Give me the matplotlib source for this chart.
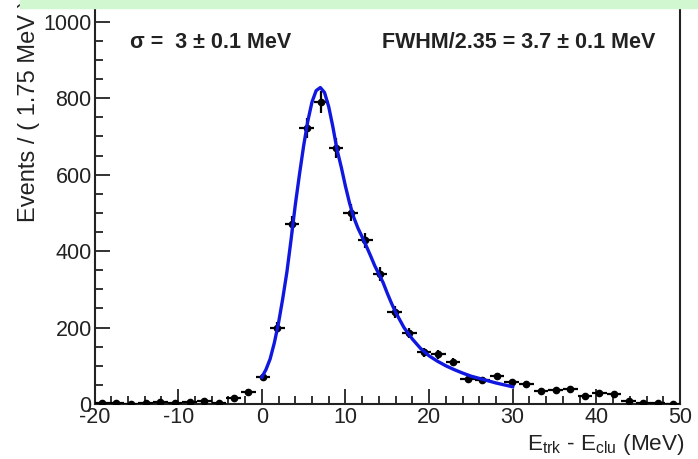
import numpy as np
import matplotlib
matplotlib.use("Agg")
import matplotlib.pyplot as plt
from matplotlib.ticker import MultipleLocator

plt.rcParams['font.family'] = ['Liberation Sans', 'DejaVu Sans']
plt.rcParams['mathtext.fontset'] = 'custom'
plt.rcParams['mathtext.rm'] = 'Liberation Sans'
plt.rcParams['mathtext.it'] = 'Liberation Sans:italic'
plt.rcParams['axes.unicode_minus'] = False

# histogram: 40 bins of 1.75 MeV from -20 to 50
bin_edges = np.linspace(-20, 50, 41)
counts = [3, 2, 1, 2, 4, 2, 6, 8, 3, 16,
          31, 70, 200, 470, 722, 790, 670, 500, 428, 340,
          240, 185, 135, 130, 109, 65, 62, 73, 57, 53,
          33, 37, 40, 20, 30, 25, 8, 2, 3, 1]

# fitted curve
fit_x = [0, 0.5, 1, 1.5, 2, 2.5, 3, 3.5, 4, 4.5, 5, 5.5, 6, 6.5, 7, 7.5, 8, 8.5,
         9, 9.5, 10, 10.5, 11, 11.5, 12, 12.5, 13, 13.5, 14, 14.5, 15, 15.5, 16,
         17, 18, 19, 20, 21, 22, 23, 24, 25, 26, 27, 28, 29, 30]
fit_y = [70, 90, 118, 160, 212, 275, 345, 430, 520, 600, 675, 740, 790, 820, 828, 815, 778, 725,
         665, 620, 570, 525, 488, 460, 437, 413, 388, 362, 340, 318, 290, 264, 240,
         200, 170, 145, 126, 112, 100, 90, 81, 73, 67, 61, 55, 50, 45]

centers = 0.5 * (bin_edges[:-1] + bin_edges[1:])
half_w = 0.5 * (bin_edges[1] - bin_edges[0])
counts = np.array(counts)

fig = plt.figure(figsize=(6.98, 4.59), dpi=100)
ax = fig.add_axes([94.5 / 698, 1 - 404 / 459, (680 - 94.5) / 698, (404 - 5) / 459])

ax.errorbar(centers, counts, yerr=np.sqrt(counts), xerr=half_w, fmt='o', color='black',
            markersize=4.5, elinewidth=1.6, capsize=0, zorder=3)
ax.plot(fit_x, fit_y, color='#1018e0', lw=2.4, zorder=4)

ax.set_xlim(-20, 50)
ax.set_ylim(0, 1044)
ax.xaxis.set_major_locator(MultipleLocator(10))
ax.xaxis.set_minor_locator(MultipleLocator(2))
ax.yaxis.set_major_locator(MultipleLocator(200))
ax.yaxis.set_minor_locator(MultipleLocator(50))
ax.tick_params(which='both', direction='in', top=False, right=False, width=1.3,
               labelsize=15.5, colors='#222222')
ax.tick_params(which='major', length=11)
ax.tick_params(which='minor', length=6)
ax.tick_params(axis='x', pad=2)
ax.tick_params(axis='y', pad=2)
for s in ax.spines.values():
    s.set_linewidth(1.5)
    s.set_color('#222222')

fig.text(29 / 698, 1 - 222 / 459, "Events / ( 1.75 MeV )", rotation=90,
         ha='center', va='bottom', fontsize=17, color='#222222')
fig.text(684 / 698, 1 - 457 / 459, r"E$_{\rm trk}$ - E$_{\rm clu}$ (MeV)",
         ha='right', va='bottom', fontsize=16.2, color='#222222')

fig.text(130 / 698, 1 - 42 / 459, "σ =  3 ± 0.1 MeV", ha='left', va='center',
         fontsize=15.5, fontweight='bold', color='#222222')
fig.text(382 / 698, 1 - 42 / 459, "FWHM/2.35 = 3.7 ± 0.1 MeV", ha='left', va='center',
         fontsize=15.5, fontweight='bold', color='#222222')

# pale green strip along the top edge
fig.patches.append(plt.Rectangle((20 / 698, 1 - 8 / 459), 1, 8 / 459, transform=fig.transFigure,
                                 color='#d0f7d0', zorder=10))

fig.savefig("out.png", dpi=100)
